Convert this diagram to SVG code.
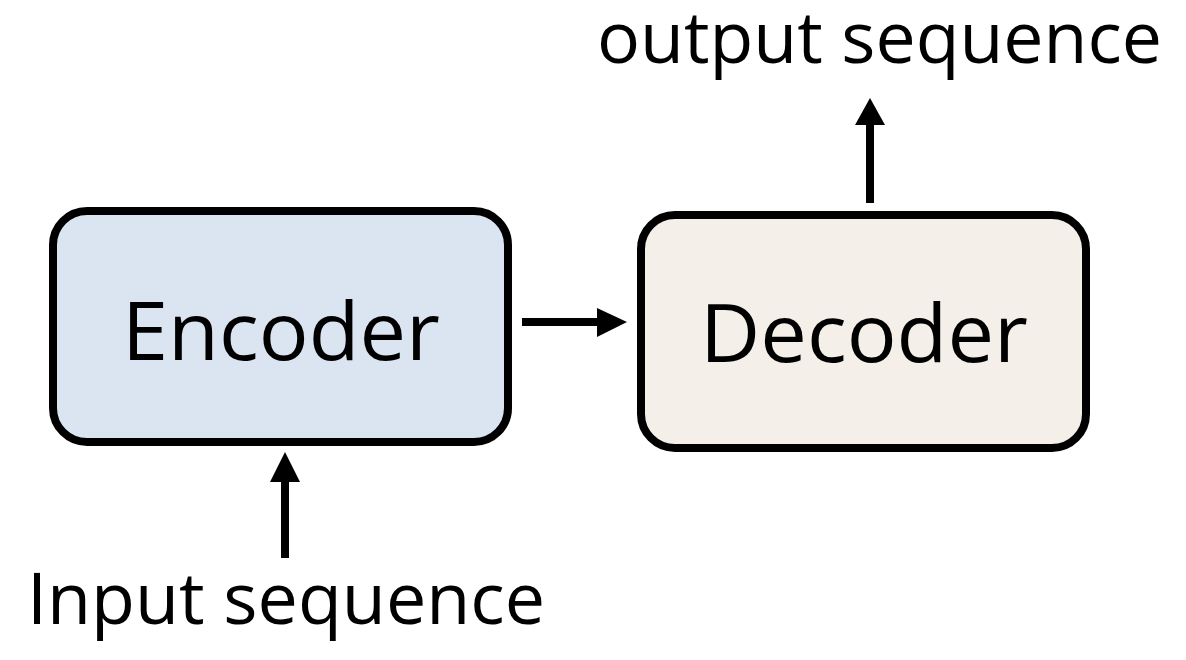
<svg xmlns="http://www.w3.org/2000/svg" width="1186" height="660" viewBox="0 0 1186 660">
<defs>
<style>
.node{stroke:#000;stroke-width:8}
.lbl{font-family:"Open Sans","Liberation Sans",sans-serif;fill:#000}
.conn line{stroke:#000;stroke-width:8}
.conn polygon{fill:#000}
</style>
</defs>
<rect width="1186" height="660" fill="#fff"/>
<g id="encoder">
<rect class="node" x="53" y="211" width="455" height="231" rx="34" fill="#dbe5f1"/>
<text class="lbl" x="281" y="360" font-size="81" text-anchor="middle" textLength="318" lengthAdjust="spacingAndGlyphs">Encoder</text>
</g>
<g id="decoder">
<rect class="node" x="641" y="215" width="445" height="233" rx="34" fill="#f4efe8"/>
<text class="lbl" x="864" y="362" font-size="81" text-anchor="middle" textLength="328" lengthAdjust="spacingAndGlyphs">Decoder</text>
</g>
<g id="input">
<text class="lbl" x="27" y="624" font-size="71" textLength="518" lengthAdjust="spacingAndGlyphs">Input sequence</text>
</g>
<g id="output">
<text class="lbl" x="597" y="63" font-size="71" textLength="565" lengthAdjust="spacingAndGlyphs">output sequence</text>
</g>
<g id="connectors" class="conn">
<line x1="522" y1="322" x2="600" y2="322"/>
<polygon points="597,308 627,322 597,337"/>
<line x1="870" y1="203" x2="870" y2="122"/>
<polygon points="855,125 870,98 885,125"/>
<line x1="285" y1="558" x2="285" y2="479"/>
<polygon points="270,482 285,452 300,482"/>
</g>
</svg>
